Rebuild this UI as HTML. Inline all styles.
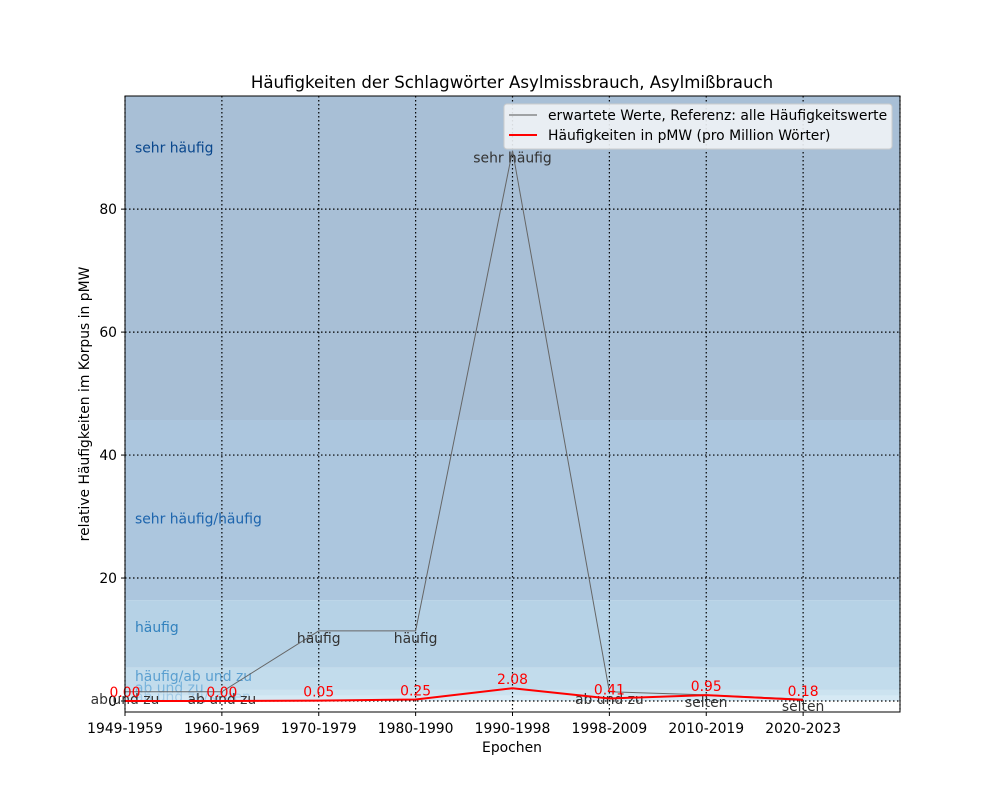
<!DOCTYPE html>
<html><head><meta charset="utf-8"><style>
body{margin:0;background:#fff}
svg{display:block;font-family:"DejaVu Sans","Liberation Sans",sans-serif}
</style></head><body>
<svg id="c" width="1000" height="800"></svg>
<script>
const categories=["1949-1959","1960-1969","1970-1979","1980-1990","1990-1998","1998-2009","2010-2019","2020-2023"];
const expectedValues=[1.5,1.5,11.4,11.4,89.5,1.5,1.0,0.3];
const expectedLabels=["ab und zu","ab und zu","häufig","häufig","sehr häufig","ab und zu","selten","selten"];
const pmwValues=[0.00,0.00,0.05,0.25,2.08,0.41,0.95,0.18];
const yTicks=[0,20,40,60,80];
const bandEdges=[98.4,45.7,16.4,5.4,1.8,0.9,0];
const bandColors=["#a8bfd6","#acc6de","#b6d2e6","#c2dcec","#cce3f0","#d6e9f4"];
const bandLabels=[["sehr häufig",90,"#08468c"],["sehr häufig/häufig",29.7,"#1c64ad"],["häufig",12,"#3282be"],["häufig/ab und zu",4.1,"#5a9fd0"],["ab und zu",2.2,"#7ab4dc"],["ab und zu/selten",0.7,"#a5cbe6"]];
const L=125,R=900,T=96,B=712,yMin=-1.79,yMax=98.4;
const FS=13.9;
const xs=i=>L+(R-L)*i/8;
const ys=v=>B-(B-T)*(v-yMin)/(yMax-yMin);
const svg=document.getElementById('c');const NS="http://www.w3.org/2000/svg";
function mk(t,a,p){const e=document.createElementNS(NS,t);for(const k in a)e.setAttribute(k,a[k]);(p||svg).appendChild(e);return e;}
function tx(x,y,s,a){const e=mk('text',Object.assign({x:x,y:y,'font-size':FS},a||{}));e.textContent=s;return e;}
for(let i=0;i<bandColors.length;i++){
 const top=ys(bandEdges[i]),bot=ys(bandEdges[i+1]);
 const r=mk('rect',{x:L,y:top,width:R-L,height:bot-top,fill:bandColors[i]});
 
 
}
for(let i=0;i<=8;i++){const l=mk('line',{x1:xs(i),x2:xs(i),y1:T,y2:B,stroke:'#000','stroke-dasharray':'1.5,2.5','stroke-width':1.2});}
yTicks.forEach(v=>{mk('line',{x1:L,x2:R,y1:ys(v),y2:ys(v),stroke:'#000','stroke-dasharray':'1.5,2.5','stroke-width':1.2});
 mk('line',{x1:L-4,x2:L,y1:ys(v),y2:ys(v),stroke:'#000'});
 const t=tx(L-8,ys(v)+5,String(v),{'text-anchor':'end'});});
bandLabels.forEach(b=>{const t=tx(135,ys(b[1])+5,b[0],{fill:b[2]});});
categories.forEach((c,i)=>{mk('line',{x1:xs(i),x2:xs(i),y1:B,y2:B+4,stroke:'#000'});
 const t=tx(xs(i),B+21,c,{'text-anchor':'middle'});});
const gp=mk('polyline',{points:expectedValues.map((v,i)=>xs(i)+','+ys(v)).join(' '),fill:'none',stroke:'#666','stroke-width':1});

expectedValues.forEach((v,i)=>{const t=tx(xs(i),ys(v)+12,expectedLabels[i],{'text-anchor':'middle',fill:'#333'});});
const rp=mk('polyline',{points:pmwValues.map((v,i)=>xs(i)+','+ys(v)).join(' '),fill:'none',stroke:'#f00','stroke-width':2});

pmwValues.forEach((v,i)=>{const t=tx(xs(i),ys(v)-4,v.toFixed(2),{'text-anchor':'middle',fill:'#f00'});});
mk('rect',{x:L,y:T,width:R-L,height:B-T,fill:'none',stroke:'#000'});
const ttl=tx(512,88,"Häufigkeiten der Schlagwörter Asylmissbrauch, Asylmißbrauch",{'text-anchor':'middle','font-size':16.6});

const xt=tx(512,752,"Epochen",{'text-anchor':'middle'});
const yt=tx(89,404,"relative Häufigkeiten im Korpus in pMW",{'text-anchor':'middle',transform:'rotate(-90 89 404)'});

const lg=mk('g',{});
mk('rect',{x:504,y:104,width:388,height:45,rx:3,fill:'#f0f3f6','fill-opacity':0.9,stroke:'#ccc'},lg);
mk('line',{x1:509,x2:537,y1:115,y2:115,stroke:'#555'},lg);
mk('line',{x1:509,x2:537,y1:135,y2:135,stroke:'#f00','stroke-width':2},lg);
tx(548,120,"erwartete Werte, Referenz: alle Häufigkeitswerte");
tx(548,140,"Häufigkeiten in pMW (pro Million Wörter)");
</script>
</body></html>
